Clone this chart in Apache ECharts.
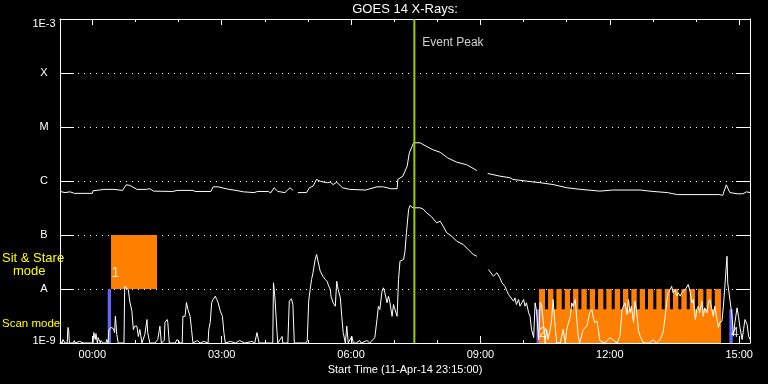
<!DOCTYPE html>
<html><head><meta charset="utf-8">
<script src="https://cdn.jsdelivr.net/npm/echarts@6/dist/echarts.min.js"></script>
<style>html,body{margin:0;padding:0;background:#000}#c{width:768px;height:384px}</style>
</head><body><div id="c"></div>
<script>
// ---- data (time in minutes relative to 12-Apr-14 00:00, flux in W/m^2) ----
const chartTitle = 'GOES 14 X-Rays:';
const xAxisName = 'Start Time (11-Apr-14 23:15:00)';
const timeRange = [-45, 915];
const majorTicks = [0, 180, 360, 540, 720, 900];
const hourTicks = [0, 60, 120, 180, 240, 300, 360, 420, 480, 540, 600, 660, 720, 780, 840, 900];
const fluxRange = [1e-9, 1e-3];
const fluxLabels = ['1E-9', 'A', 'B', 'C', 'M', 'X', '1E-3'];
const modeLabels = ['Sit & Stare', 'mode', 'Scan mode'];
const eventPeakTime = 448;
const eventPeakText = 'Event Peak';

const longChannel = [[-45,6.4e-7],[-38,6.1e-7],[-31,6.3e-7],[-25,5.9e-7],[-10,5.9e-7],[0,5.9e-7],[1,6.6e-7],[10,6.8e-7],[15,7.0e-7],[30,7.0e-7],[42,6.7e-7],[47,8.5e-7],[52,8.3e-7],[58,7.5e-7],[62,7.0e-7],[75,7.0e-7],[80,7.2e-7],[85,6.5e-7],[112,6.4e-7],[118,6.7e-7],[140,6.7e-7],[143,6.4e-7],[165,6.4e-7],[168,7.8e-7],[175,7.8e-7],[182,7.4e-7],[190,7.0e-7],[200,6.7e-7],[210,6.3e-7],[225,6.1e-7],[230,6.4e-7],[245,6.4e-7],[248,6.0e-7],[253,7.5e-7],[258,6.4e-7],[268,6.1e-7],[275,7.5e-7],[279,6.7e-7],[281,null],[286,6.1e-7],[298,6.1e-7],[302,7.5e-7],[307,8.0e-7],[312,1.07e-6],[317,9.9e-7],[323,9.5e-7],[327,9.3e-7],[331,9.5e-7],[335,8.6e-7],[340,9.5e-7],[348,7.5e-7],[358,7.0e-7],[380,6.8e-7],[396,7.8e-7],[405,7.8e-7],[415,7.2e-7],[424,7.2e-7],[425,1.07e-6],[432,1.23e-6],[438,1.88e-6],[441,3.33e-6],[445,4.4e-6],[447,5.1e-6],[456,5.1e-6],[460,4.74e-6],[473,3.83e-6],[484,3.4e-6],[494,2.69e-6],[507,2.23e-6],[521,2.0e-6],[535,1.56e-6],[537,null],[550,1.38e-6],[567,1.23e-6],[581,1.15e-6],[585,1.07e-6],[605,9.9e-7],[623,9.3e-7],[641,8.6e-7],[660,7.5e-7],[679,7.0e-7],[706,6.5e-7],[724,6.8e-7],[762,6.8e-7],[780,6.4e-7],[800,6.1e-7],[814,5.6e-7],[873,5.6e-7],[877,5.4e-7],[882,8.5e-7],[887,6.1e-7],[897,5.8e-7],[905,5.8e-7],[910,6.3e-7],[915,6.1e-7]];

const shortChannel = [[-45,1.1e-9],[-42,1e-9],[-41,1.16e-9],[-38,1e-9],[-35,1e-9],[-34,1.94e-9],[-33,1.78e-9],[-32,1e-9],[-27,1e-9],[-25,1.11e-9],[-24,1e-9],[-18,1.07e-9],[-17,1e-9],[-12,1e-9],[1,1e-9],[2,1.56e-9],[4,1.16e-9],[5,1.5e-9],[7,1e-9],[8,1.26e-9],[11,1e-9],[12,1.11e-9],[15,1e-9],[19,1e-9],[20,1.16e-9],[22,1e-9],[23,1.78e-9],[26,1.94e-9],[29,1.86e-9],[31,1.56e-9],[32,3.12e-9],[33,2.2e-9],[34,1.44e-9],[36,1e-9],[44,1e-9],[45,1.12e-8],[47,1.12e-8],[50,9.8e-9],[52,5.95e-9],[55,3.88e-9],[57,1.78e-9],[59,2.05e-9],[62,2.05e-9],[64,1.32e-9],[66,1.78e-9],[69,1e-9],[73,1.44e-9],[76,2.72e-9],[77,1.56e-9],[80,1e-9],[87,1e-9],[91,1.16e-9],[94,2.05e-9],[96,1e-9],[100,1.11e-9],[101,2.4e-9],[104,2.72e-9],[105,2.4e-9],[107,1e-9],[115,1e-9],[118,1.16e-9],[122,1e-9],[125,1e-9],[126,3.12e-9],[129,3.12e-9],[131,5.62e-9],[133,4.17e-9],[136,3.12e-9],[138,1.78e-9],[140,1e-9],[146,1.11e-9],[150,1e-9],[155,1.07e-9],[161,1e-9],[162,1.78e-9],[164,2.4e-9],[166,5.62e-9],[168,6.4e-9],[171,7.37e-9],[173,6.4e-9],[175,5.62e-9],[178,3.88e-9],[181,3.12e-9],[183,1.56e-9],[185,1e-9],[192,1.07e-9],[199,1e-9],[205,1.11e-9],[212,1e-9],[222,1.07e-9],[226,1e-9],[229,1.56e-9],[231,1.63e-9],[232,1e-9],[236,1e-9],[251,1e-9],[252,1.3e-8],[253,9.8e-9],[254,6.87e-9],[257,1.56e-9],[258,1e-9],[264,1.32e-9],[265,1e-9],[272,1e-9],[274,5.95e-9],[276,5.55e-9],[277,6.6e-9],[279,5.16e-9],[281,1e-9],[297,1e-9],[299,1.11e-9],[301,5.95e-9],[303,9.8e-9],[305,1.5e-8],[307,2.0e-8],[310,3.52e-8],[312,4.35e-8],[314,3.27e-8],[317,2.14e-8],[319,2.0e-8],[321,1.7e-8],[324,1.5e-8],[327,1.38e-8],[328,1.21e-8],[331,9.8e-9],[332,7.37e-9],[335,5.55e-9],[338,4.8e-9],[340,1.39e-8],[342,9.8e-9],[345,6.87e-9],[347,3.12e-9],[349,1.56e-9],[352,1e-9],[354,2.05e-9],[356,1e-9],[361,1.34e-9],[363,1e-9],[367,1e-9],[372,1.11e-9],[374,1e-9],[382,1.11e-9],[386,1e-9],[393,1.26e-9],[396,2.72e-9],[398,4.8e-9],[400,4.17e-9],[403,9.1e-9],[405,1.05e-8],[407,8.5e-9],[410,5.55e-9],[412,7.37e-9],[414,5.62e-9],[417,3.12e-9],[419,5.16e-9],[421,4.8e-9],[424,3.12e-9],[426,1.5e-8],[428,3.27e-8],[433,3.52e-8],[435,5.0e-8],[437,1.1e-7],[440,2.97e-7],[442,3.52e-7],[446,3.19e-7],[456,3.19e-7],[461,2.97e-7],[465,2.58e-7],[472,2.17e-7],[479,1.68e-7],[484,1.8e-7],[488,1.46e-7],[493,1.1e-7],[500,9.5e-8],[507,7.67e-8],[516,6.66e-8],[523,5.38e-8],[530,4.35e-8],[535,4.04e-8],[537,null],[551,2.3e-8],[553,2.14e-8],[558,1.73e-8],[563,2.0e-8],[567,1.61e-8],[570,1.3e-8],[574,1.12e-8],[577,9.1e-9],[579,7.92e-9],[581,8.5e-9],[586,5.95e-9],[588,6.87e-9],[590,5.16e-9],[593,6.4e-9],[595,4.8e-9],[600,6.4e-9],[602,4.8e-9],[604,5.55e-9],[607,3.62e-9],[609,3.12e-9],[611,1.78e-9],[614,1.26e-9],[616,5.55e-9],[618,3.88e-9],[621,1.16e-9],[623,5.62e-9],[625,5.16e-9],[627,2.72e-9],[630,1e-9],[632,1.78e-9],[634,1.16e-9],[637,1.78e-9],[639,2.72e-9],[641,6.4e-9],[644,1.94e-9],[646,1e-9],[651,1e-9],[655,1.78e-9],[658,1e-9],[660,1.78e-9],[665,3.12e-9],[667,5.55e-9],[669,4.74e-9],[672,6.4e-9],[674,2.72e-9],[676,1.34e-9],[678,1e-9],[683,1.78e-9],[688,2.05e-9],[692,3.62e-9],[695,4.17e-9],[697,2.93e-9],[699,2.4e-9],[702,2.53e-9],[704,1.78e-9],[706,1.11e-9],[713,1e-9],[720,1.26e-9],[724,1.16e-9],[730,1e-9],[734,1.34e-9],[737,4.17e-9],[739,3.88e-9],[741,5.55e-9],[744,3.37e-9],[746,6.4e-9],[748,3.62e-9],[750,4.8e-9],[753,2.4e-9],[755,5.95e-9],[757,4.17e-9],[760,1.65e-9],[762,1.34e-9],[767,1e-9],[776,1e-9],[780,1.16e-9],[785,1e-9],[790,1.16e-9],[794,1.56e-9],[797,3.12e-9],[799,5.55e-9],[801,8.5e-9],[804,9.8e-9],[806,1.12e-8],[808,8.5e-9],[811,9.8e-9],[813,7.37e-9],[815,8.5e-9],[818,7.37e-9],[820,8.5e-9],[822,9.1e-9],[825,9.8e-9],[827,1.05e-8],[829,1.21e-8],[832,8.5e-9],[834,5.55e-9],[836,6.4e-9],[839,2.72e-9],[841,4.17e-9],[843,4.8e-9],[845,3.62e-9],[848,5.95e-9],[850,3.12e-9],[852,4.48e-9],[855,3.62e-9],[857,5.55e-9],[859,6.4e-9],[862,4.17e-9],[864,3.12e-9],[866,4.8e-9],[869,2.72e-9],[871,1.94e-9],[873,2.4e-9],[876,2.53e-9],[878,4.8e-9],[880,1.12e-8],[883,4.04e-8],[884,1.3e-8],[887,6.4e-9],[890,3.12e-9],[892,1.34e-9],[894,2.4e-9],[897,4.48e-9],[899,3.12e-9],[901,1.94e-9],[904,1.16e-9],[906,1.78e-9],[908,2.72e-9],[911,2.2e-9],[913,1.34e-9],[915,1.16e-9]];

// observation blocks: [start, end, lowFlux, highFlux]
const sitStareBlocks = [[26, 90, 1e-8, 1e-7]];
const scanBlocks = [[621.5, 874.7, 1e-9, 4.2e-9]];
const rasterBlocks = [[621.5,629.8,1e-9,1e-8],[634,641.4,1e-9,1e-8],[645.6,653.1,1e-9,1e-8],[657.3,664.7,1e-9,1e-8],[668.8,676.2,1e-9,1e-8],[680.4,687.9,1e-9,1e-8],[692,699.4,1e-9,1e-8],[703.6,711,1e-9,1e-8],[715.1,722.6,1e-9,1e-8],[726.8,734.2,1e-9,1e-8],[738.3,745.7,1e-9,1e-8],[749.9,757.4,1e-9,1e-8],[761.6,768.9,1e-9,1e-8],[773.1,780.5,1e-9,1e-8],[784.7,792.2,1e-9,1e-8],[796.4,803.7,1e-9,1e-8],[807.9,815.3,1e-9,1e-8],[819.5,827,1e-9,1e-8],[831.2,838.5,1e-9,1e-8],[842.7,850.1,1e-9,1e-8],[854.3,861.8,1e-9,1e-8],[866,874.7,1e-9,1e-8]];
const slewBlocks = [[21.4, 26, 1e-9, 1e-8], [618, 621.5, 1e-9, 4.2e-9], [886.3, 891, 1e-9, 4.2e-9]];
const obsNumbers = [[32, 2.0e-8, '1'], [627, 1.5e-9, '2'], [894, 1.5e-9, '4']];

// ---- chart ----
const FONT = 'Liberation Sans';
const WHITE = '#ffffff';
const ORANGE = '#ff8000';
const BLUE = '#6464ff';
const GREEN = '#99cc00';
const YELLOW = '#ffff00';

function hhmm(m) {
  const h = Math.floor(m / 60), mm = Math.round(m - h * 60);
  return String(h).padStart(2, '0') + ':' + String(mm).padStart(2, '0');
}
function rectRenderer(color) {
  return function (params, api) {
    const p0 = api.coord([api.value(0), api.value(3)]);
    const p1 = api.coord([api.value(1), api.value(2)]);
    return { type: 'rect', shape: { x: p0[0], y: p0[1], width: p1[0] - p0[0], height: p1[1] - p0[1] }, style: { fill: color } };
  };
}
function xAx(position, ticks, len, extra) {
  return Object.assign({
    type: 'value', position: position, min: timeRange[0], max: timeRange[1], offset: 0,
    axisLine: { show: true, onZero: false, lineStyle: { color: WHITE, width: 1 } },
    axisTick: { show: true, inside: true, length: len, customValues: ticks, lineStyle: { color: WHITE, width: 1 } },
    axisLabel: { show: false },
    splitLine: { show: false }
  }, extra || {});
}
const labelByExp = {};
fluxLabels.forEach((l, i) => { labelByExp[-9 + i] = l; });

const chart = echarts.init(document.getElementById('c'), null, { renderer: 'canvas' });
chart.setOption({
  backgroundColor: '#000000',
  animation: false,
  textStyle: { fontFamily: FONT },
  grid: { left: 60, right: 18, top: 19, height: 324 },
  xAxis: [
    xAx('bottom', majorTicks, 7, {
      axisLabel: { show: true, customValues: majorTicks, color: WHITE, fontSize: 11, fontFamily: FONT, margin: 6, formatter: hhmm },
      name: xAxisName, nameLocation: 'middle', nameGap: 20,
      nameTextStyle: { color: WHITE, fontSize: 11, fontFamily: FONT }
    }),
    xAx('bottom', hourTicks, 3, { axisLine: { show: false, onZero: false } }),
    xAx('top', majorTicks, 6),
    xAx('top', hourTicks, 3, { axisLine: { show: false, onZero: false } })
  ],
  yAxis: [
    {
      type: 'log', logBase: 10, min: fluxRange[0], max: fluxRange[1], splitNumber: 6, position: 'left', offset: 0,
      axisLine: { show: true, onZero: false, lineStyle: { color: WHITE, width: 1 } },
      axisTick: { show: true, inside: true, length: 14, lineStyle: { color: WHITE } },
      minorTick: { show: false },
      splitLine: { show: true, lineStyle: { color: WHITE, width: 1, type: [1, 5] } },
      axisLabel: {
        color: WHITE, fontSize: 11, fontFamily: FONT, align: 'center', margin: 16,
        formatter: function (v) {
          const e = Math.round(Math.log10(v));
          const t = labelByExp[e] || '';
          if (e === -3) return '{top|' + t + '}';
          if (e === -9) return '{bot|' + t + '}';
          return t;
        },
        rich: {
          top: { padding: [9, 0, 0, 0], color: WHITE, fontSize: 11, fontFamily: FONT },
          bot: { padding: [0, 0, 5, 0], color: WHITE, fontSize: 11, fontFamily: FONT }
        }
      }
    },
    {
      type: 'log', logBase: 10, min: fluxRange[0], max: fluxRange[1], splitNumber: 6, position: 'right', offset: 0,
      axisLine: { show: true, onZero: false, lineStyle: { color: WHITE, width: 1 } },
      axisTick: { show: true, inside: true, length: 14, lineStyle: { color: WHITE } },
      splitLine: { show: false },
      axisLabel: { show: false }
    }
  ],
  series: [
    { type: 'custom', name: 'scan', renderItem: rectRenderer(ORANGE), data: scanBlocks, encode: { x: [0, 1], y: [2, 3] }, z: 1, clip: true },
    { type: 'custom', name: 'raster', renderItem: rectRenderer(ORANGE), data: rasterBlocks, encode: { x: [0, 1], y: [2, 3] }, z: 1, clip: true },
    { type: 'custom', name: 'sitstare', renderItem: rectRenderer(ORANGE), data: sitStareBlocks, encode: { x: [0, 1], y: [2, 3] }, z: 1, clip: true },
    { type: 'custom', name: 'slew', renderItem: rectRenderer(BLUE), data: slewBlocks, encode: { x: [0, 1], y: [2, 3] }, z: 2, clip: true },
    { type: 'line', name: '1-8 A', data: longChannel, showSymbol: false, symbol: 'none', connectNulls: false, clip: true,
      lineStyle: { color: WHITE, width: 1 }, z: 5 },
    { type: 'line', name: '0.5-4 A', data: shortChannel, showSymbol: false, symbol: 'none', connectNulls: false, clip: true,
      lineStyle: { color: WHITE, width: 1 }, z: 5 },
    { type: 'scatter', name: 'obs', data: obsNumbers, symbolSize: 1, itemStyle: { color: 'rgba(0,0,0,0)' }, z: 6,
      label: { show: true, position: 'inside', formatter: p => p.data[2], color: WHITE, fontSize: 14, fontFamily: FONT } },
    { type: 'line', name: 'peak', data: [[eventPeakTime, fluxRange[0]], [eventPeakTime, fluxRange[1]]], showSymbol: false, symbol: 'none',
      lineStyle: { color: GREEN, width: 2 }, z: 8 },
    { type: 'scatter', name: 'peakLabel', data: [[eventPeakTime + 11, 3.6e-4]], symbolSize: 1, itemStyle: { color: 'rgba(0,0,0,0)' }, z: 8,
      label: { show: true, position: 'inside', align: 'left', formatter: eventPeakText, color: WHITE, fontSize: 12, fontFamily: FONT } }
  ],
  graphic: [
    { type: 'text', x: 405, y: 9, style: { text: chartTitle, fill: WHITE, font: '13px "Liberation Sans"', textAlign: 'center', textVerticalAlign: 'middle' } },
    { type: 'text', x: 2, y: 258, style: { text: modeLabels[0], fill: YELLOW, font: '13px "Liberation Sans"', textAlign: 'left', textVerticalAlign: 'middle' } },
    { type: 'text', x: 13, y: 271, style: { text: modeLabels[1], fill: YELLOW, font: '13px "Liberation Sans"', textAlign: 'left', textVerticalAlign: 'middle' } },
    { type: 'text', x: 2, y: 324, style: { text: modeLabels[2], fill: YELLOW, font: '11.5px "Liberation Sans"', textAlign: 'left', textVerticalAlign: 'middle' } }
  ]
});
</script></body></html>
